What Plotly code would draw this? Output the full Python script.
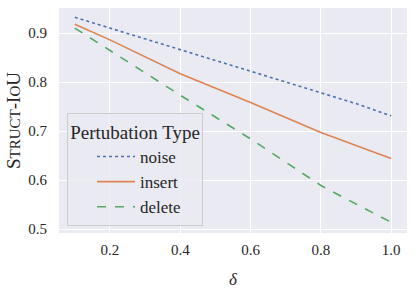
import plotly.graph_objects as go

delta = [0.1, 0.2, 0.4, 0.6, 0.8, 0.9, 1.0]
noise = [0.932, 0.910, 0.865, 0.822, 0.778, 0.756, 0.731]
insert = [0.918, 0.886, 0.817, 0.758, 0.697, 0.670, 0.644]
delete = [0.910, 0.864, 0.773, 0.684, 0.589, 0.551, 0.514]

x_ticks = [0.2, 0.4, 0.6, 0.8, 1.0]
y_ticks = [0.5, 0.6, 0.7, 0.8, 0.9]

FONT = "Liberation Serif"

fig = go.Figure()
fig.add_trace(go.Scatter(x=delta, y=noise, mode="lines", name="noise",
                         line=dict(color="#4C72B0", width=1.6, dash="dot")))
fig.add_trace(go.Scatter(x=delta, y=insert, mode="lines", name="insert",
                         line=dict(color="#DD8452", width=1.6)))
fig.add_trace(go.Scatter(x=delta, y=delete, mode="lines", name="delete",
                         line=dict(color="#55A868", width=1.6, dash="dash")))

fig.update_layout(
    width=415, height=289,
    margin=dict(l=59, r=8, t=8, b=56, autoexpand=False),
    paper_bgcolor="white",
    plot_bgcolor="#EAEAF2",
    font=dict(family=FONT, size=15, color="#262626"),
    showlegend=True,
    legend=dict(
        title=dict(text="Pertubation Type", font=dict(size=19), side="top center"),
        x=0.023, y=0.03, xanchor="left", yanchor="bottom",
        bgcolor="rgba(234,234,242,0.8)", bordercolor="#cccccc", borderwidth=1,
        font=dict(size=17), itemwidth=38, tracegroupgap=0, indentation=24,
    ),
    xaxis=dict(
        range=[0.055, 1.045], tickvals=x_ticks, ticktext=[f"{v:.1f}" for v in x_ticks],
        showgrid=True, gridcolor="white", gridwidth=1, zeroline=False, automargin=False,
        ticks="outside", ticklen=3, tickcolor="rgba(0,0,0,0)",
        title=dict(text="<i>δ</i>", standoff=17, font=dict(size=17)),
    ),
    yaxis=dict(
        range=[0.492, 0.951], tickvals=y_ticks, ticktext=[f"{v:.1f}" for v in y_ticks],
        showgrid=True, gridcolor="white", gridwidth=1, zeroline=False, automargin=False,
        ticks="outside", ticklen=8, tickcolor="rgba(0,0,0,0)",
        title=dict(text="S<span style='font-size:15px'>TRUCT</span>-I<span style='font-size:15px'>O</span>U",
                   standoff=2, font=dict(size=19)),
    ),
)

fig.write_html("out.html", config={"displayModeBar": False},
               post_script="document.body.style.margin='0';")
